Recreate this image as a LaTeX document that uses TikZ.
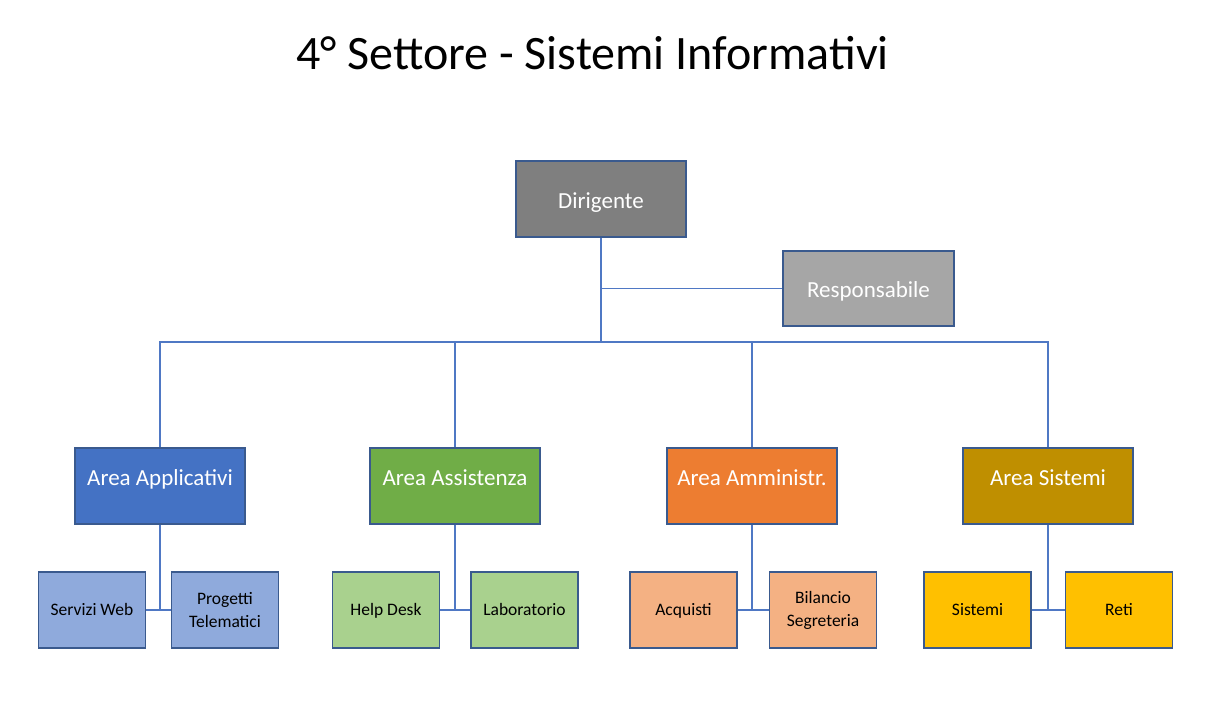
\documentclass[tikz,border=0pt]{standalone}
\usepackage{fontspec}
\setmainfont{Carlito}
\usepackage{xcolor}
\usetikzlibrary{positioning,calc}
\definecolor{edgeblue}{HTML}{3A5A8E}
\definecolor{linkblue}{HTML}{4F78C4}
\begin{document}
\begin{tikzpicture}[x=1pt, y=-1pt,
  box/.style={draw=edgeblue, line width=1.1pt, minimum width=170pt, minimum height=76pt,
    inner sep=0pt, text=white, text height=19pt, text depth=1pt, font=\fontsize{23}{26}\selectfont},
  areabox/.style={box, text height=16pt, text depth=18pt},
  subbox/.style={draw=edgeblue, line width=1.1pt, minimum width=107pt, minimum height=76pt,
    inner sep=0pt, align=center, font=\fontsize{17.5}{23}\selectfont},
  onebox/.style={subbox, text height=14pt, text depth=4pt},
  link/.style={draw=linkblue, line width=1.1pt}]
  \useasboundingbox (0,0) rectangle (1215,704);
  \node[font=\fontsize{48}{50}\selectfont] (title) at (592.5,53) {4° Settore - Sistemi Informativi};

  \node[box, fill={rgb,255:red,127;green,127;blue,127}] (dir) at (601,199) {Dirigente};
  \node[box, fill={rgb,255:red,166;green,166;blue,166}, minimum width=171pt, minimum height=75pt] (resp) at (868.5,288.5) {Responsabile};

  \node[areabox, fill={rgb,255:red,68;green,114;blue,196}] (aapp) at (160,486) {Area Applicativi};
  \node[areabox, fill={rgb,255:red,112;green,173;blue,71}] (aass) at (455,486) {Area Assistenza};
  \node[areabox, fill={rgb,255:red,237;green,125;blue,49}] (aamm) at (752,486) {Area Amministr.};
  \node[areabox, fill={rgb,255:red,191;green,143;blue,0}] (asis) at (1048,486) {Area Sistemi};

  \node[onebox, fill={rgb,255:red,143;green,170;blue,220}] (web) at (92,610) {Servizi Web};
  \node[subbox, fill={rgb,255:red,143;green,170;blue,220}] (tel) at (225,610) {Progetti\\Telematici};
  \node[onebox, fill={rgb,255:red,169;green,209;blue,142}] (help) at (386,610) {Help Desk};
  \node[onebox, fill={rgb,255:red,169;green,209;blue,142}] (lab) at (524.5,610) {Laboratorio};
  \node[onebox, fill={rgb,255:red,244;green,177;blue,131}] (acq) at (683.5,610) {Acquisti};
  \node[subbox, fill={rgb,255:red,244;green,177;blue,131}] (bil) at (823,610) {Bilancio\\Segreteria};
  \node[onebox, fill={rgb,255:red,255;green,192;blue,0}] (sis) at (977.5,610) {Sistemi};
  \node[onebox, fill={rgb,255:red,255;green,192;blue,0}] (reti) at (1119,610) {Reti};

  \coordinate (hub) at (601,342);
  \draw[link] (dir.south) -- (hub);
  \draw[link] (dir.south |- resp.west) -- (resp.west);
  \draw[link] (hub) -| (aapp.north);
  \draw[link] (hub) -| (aass.north);
  \draw[link] (hub) -| (aamm.north);
  \draw[link] (hub) -| (asis.north);

  \draw[link] (aapp.south) |- (web.east);
  \draw[link] (aapp.south) |- (tel.west);
  \draw[link] (aass.south) |- (help.east);
  \draw[link] (aass.south) |- (lab.west);
  \draw[link] (aamm.south) |- (acq.east);
  \draw[link] (aamm.south) |- (bil.west);
  \draw[link] (asis.south) |- (sis.east);
  \draw[link] (asis.south) |- (reti.west);
\end{tikzpicture}
\end{document}
